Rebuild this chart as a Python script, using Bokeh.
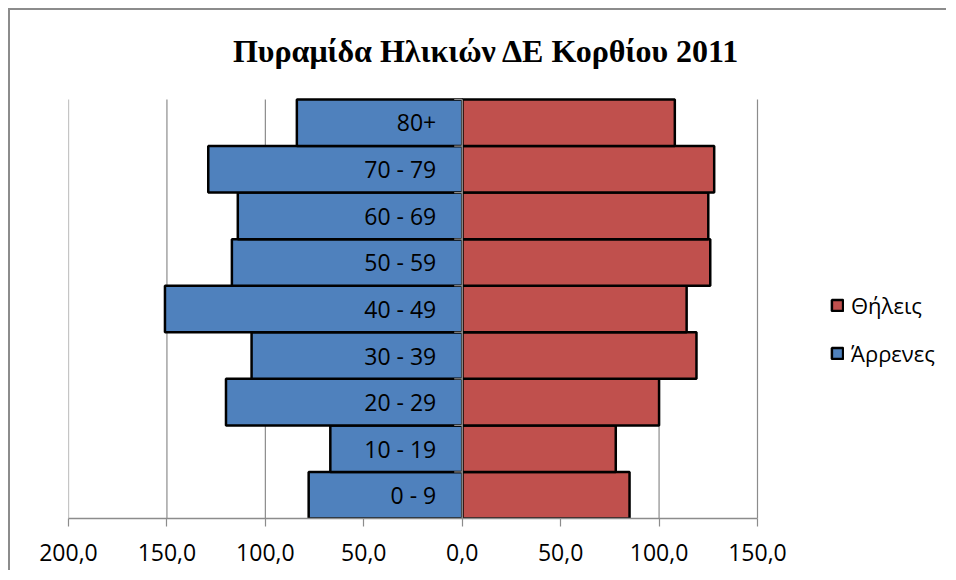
from bokeh.plotting import figure
from bokeh.models import (Range1d, FixedTicker, CustomJSTickFormatter, Legend,
                          LegendItem, ColumnDataSource, Label)
from bokeh.core.properties import value
from bokeh.embed import file_html
from bokeh.resources import INLINE
import math

categories = ["0 - 9", "10 - 19", "20 - 29", "30 - 39", "40 - 49",
              "50 - 59", "60 - 69", "70 - 79", "80+"]
males = [78, 67, 120, 107, 151, 117, 114, 129, 84]
females = [85, 78, 100, 119, 114, 126, 125, 128, 108]
x_ticks = [-200, -150, -100, -50, 0, 50, 100, 150]
title_text = "Πυραμίδα Ηλικιών ΔΕ Κορθίου 2011"
label_f = "Θήλεις"
label_m = "Άρρενες"

n = len(categories)
idx = list(range(n))
src = ColumnDataSource(dict(
    y=idx,
    cat=categories,
    mneg=[-v for v in males],
    f=females,
    zero=[0] * n,
))
bounds = [i - 0.5 for i in range(n + 1)]

# layout in pixels
W, H = 938, 562
BL, BR, BT, BB = 58, 5, 0, 54
axis_px = 689            # pixel length of the -200..150 axis
bars_px = 419            # pixel height of the bar block
frame_w = W - BL - BR
frame_h = H - BT - BB
x0 = x_ticks[0]
x_per_px = (x_ticks[-1] - x_ticks[0]) / axis_px
x_end = x0 + frame_w * x_per_px
y0 = -0.5
y_per_px = n / bars_px
y_end = y0 + frame_h * y_per_px

# title placement (pixels inside the frame, from its left / bottom)
title_cx_px, title_cy_px = 418, 468

GRAY = "#8c8c8c"
p = figure(width=W, height=H, output_backend="svg", toolbar_location=None,
           x_range=Range1d(x0, x_end),
           y_range=Range1d(y0, y_end),
           y_axis_location=None,
           min_border_left=BL, min_border_right=BR,
           min_border_top=BT, min_border_bottom=BB)
p.styles = {"border-top": "2px solid #8c8c8c", "border-left": "2px solid #8c8c8c",
            "margin-left": "8px", "margin-top": "8px"}
p.outline_line_color = None
p.grid.visible = False

ax = p.xaxis[0]
ax.bounds = (x_ticks[0], x_ticks[-1])
ax.ticker = FixedTicker(ticks=x_ticks)
ax.formatter = CustomJSTickFormatter(code="return Math.abs(tick).toFixed(1).replace('.', ',');")
ax.axis_line_color = GRAY
ax.axis_line_width = 1.5
ax.major_tick_line_color = GRAY
ax.major_tick_line_width = 1.2
ax.major_tick_out = 8
ax.major_tick_in = 0
ax.minor_tick_line_color = None
ax.major_label_text_font = "Open Sans"
ax.major_label_text_font_size = "23px"
ax.major_label_text_color = "black"
ax.major_label_standoff = 17

# vertical gridlines limited to the bar block
p.segment(x0=x_ticks, y0=[bounds[0]] * len(x_ticks), x1=x_ticks,
          y1=[bounds[-1]] * len(x_ticks), line_color=GRAY, line_width=1.2)

rf = p.hbar(y="y", left="zero", right="f", height=1.0, source=src,
            fill_color="#C0504D", line_color="black", line_width=2.5)
rm = p.hbar(y="y", left="mneg", right="zero", height=1.0, source=src,
            fill_color="#4F81BD", line_color="black", line_width=2.5)

# vertical category axis at zero with its tick marks
p.segment(x0=[0], y0=[bounds[0]], x1=[0], y1=[bounds[-1]], line_color=GRAY, line_width=1.5)
p.ray(x=[0] * len(bounds), y=bounds, length=8, length_units="screen", angle=math.pi,
      line_color=GRAY, line_width=1.2)

p.text(x="zero", y="y", text="cat", source=src, x_offset=-26,
       text_align="right", text_baseline="middle",
       text_font=value("Open Sans"), text_font_size="23px", text_color="black")

p.add_layout(Label(x=x0 + title_cx_px * x_per_px, y=y0 + title_cy_px * y_per_px,
                   text=title_text, text_align="center", text_baseline="middle",
                   text_font="Liberation Serif", text_font_style="bold",
                   text_font_size="32px", text_color="black"))

legend = Legend(items=[LegendItem(label=label_f, renderers=[rf]),
                       LegendItem(label=label_m, renderers=[rm])],
                location=(762, 150), orientation="vertical",
                border_line_color=None, background_fill_alpha=0,
                padding=0, margin=0, spacing=18,
                glyph_width=14, glyph_height=14, label_height=30,
                label_standoff=7,
                label_text_font="Open Sans", label_text_font_size="22px",
                label_text_color="black")
p.add_layout(legend, "center")

open("out.html", "w").write(file_html(p, INLINE))
